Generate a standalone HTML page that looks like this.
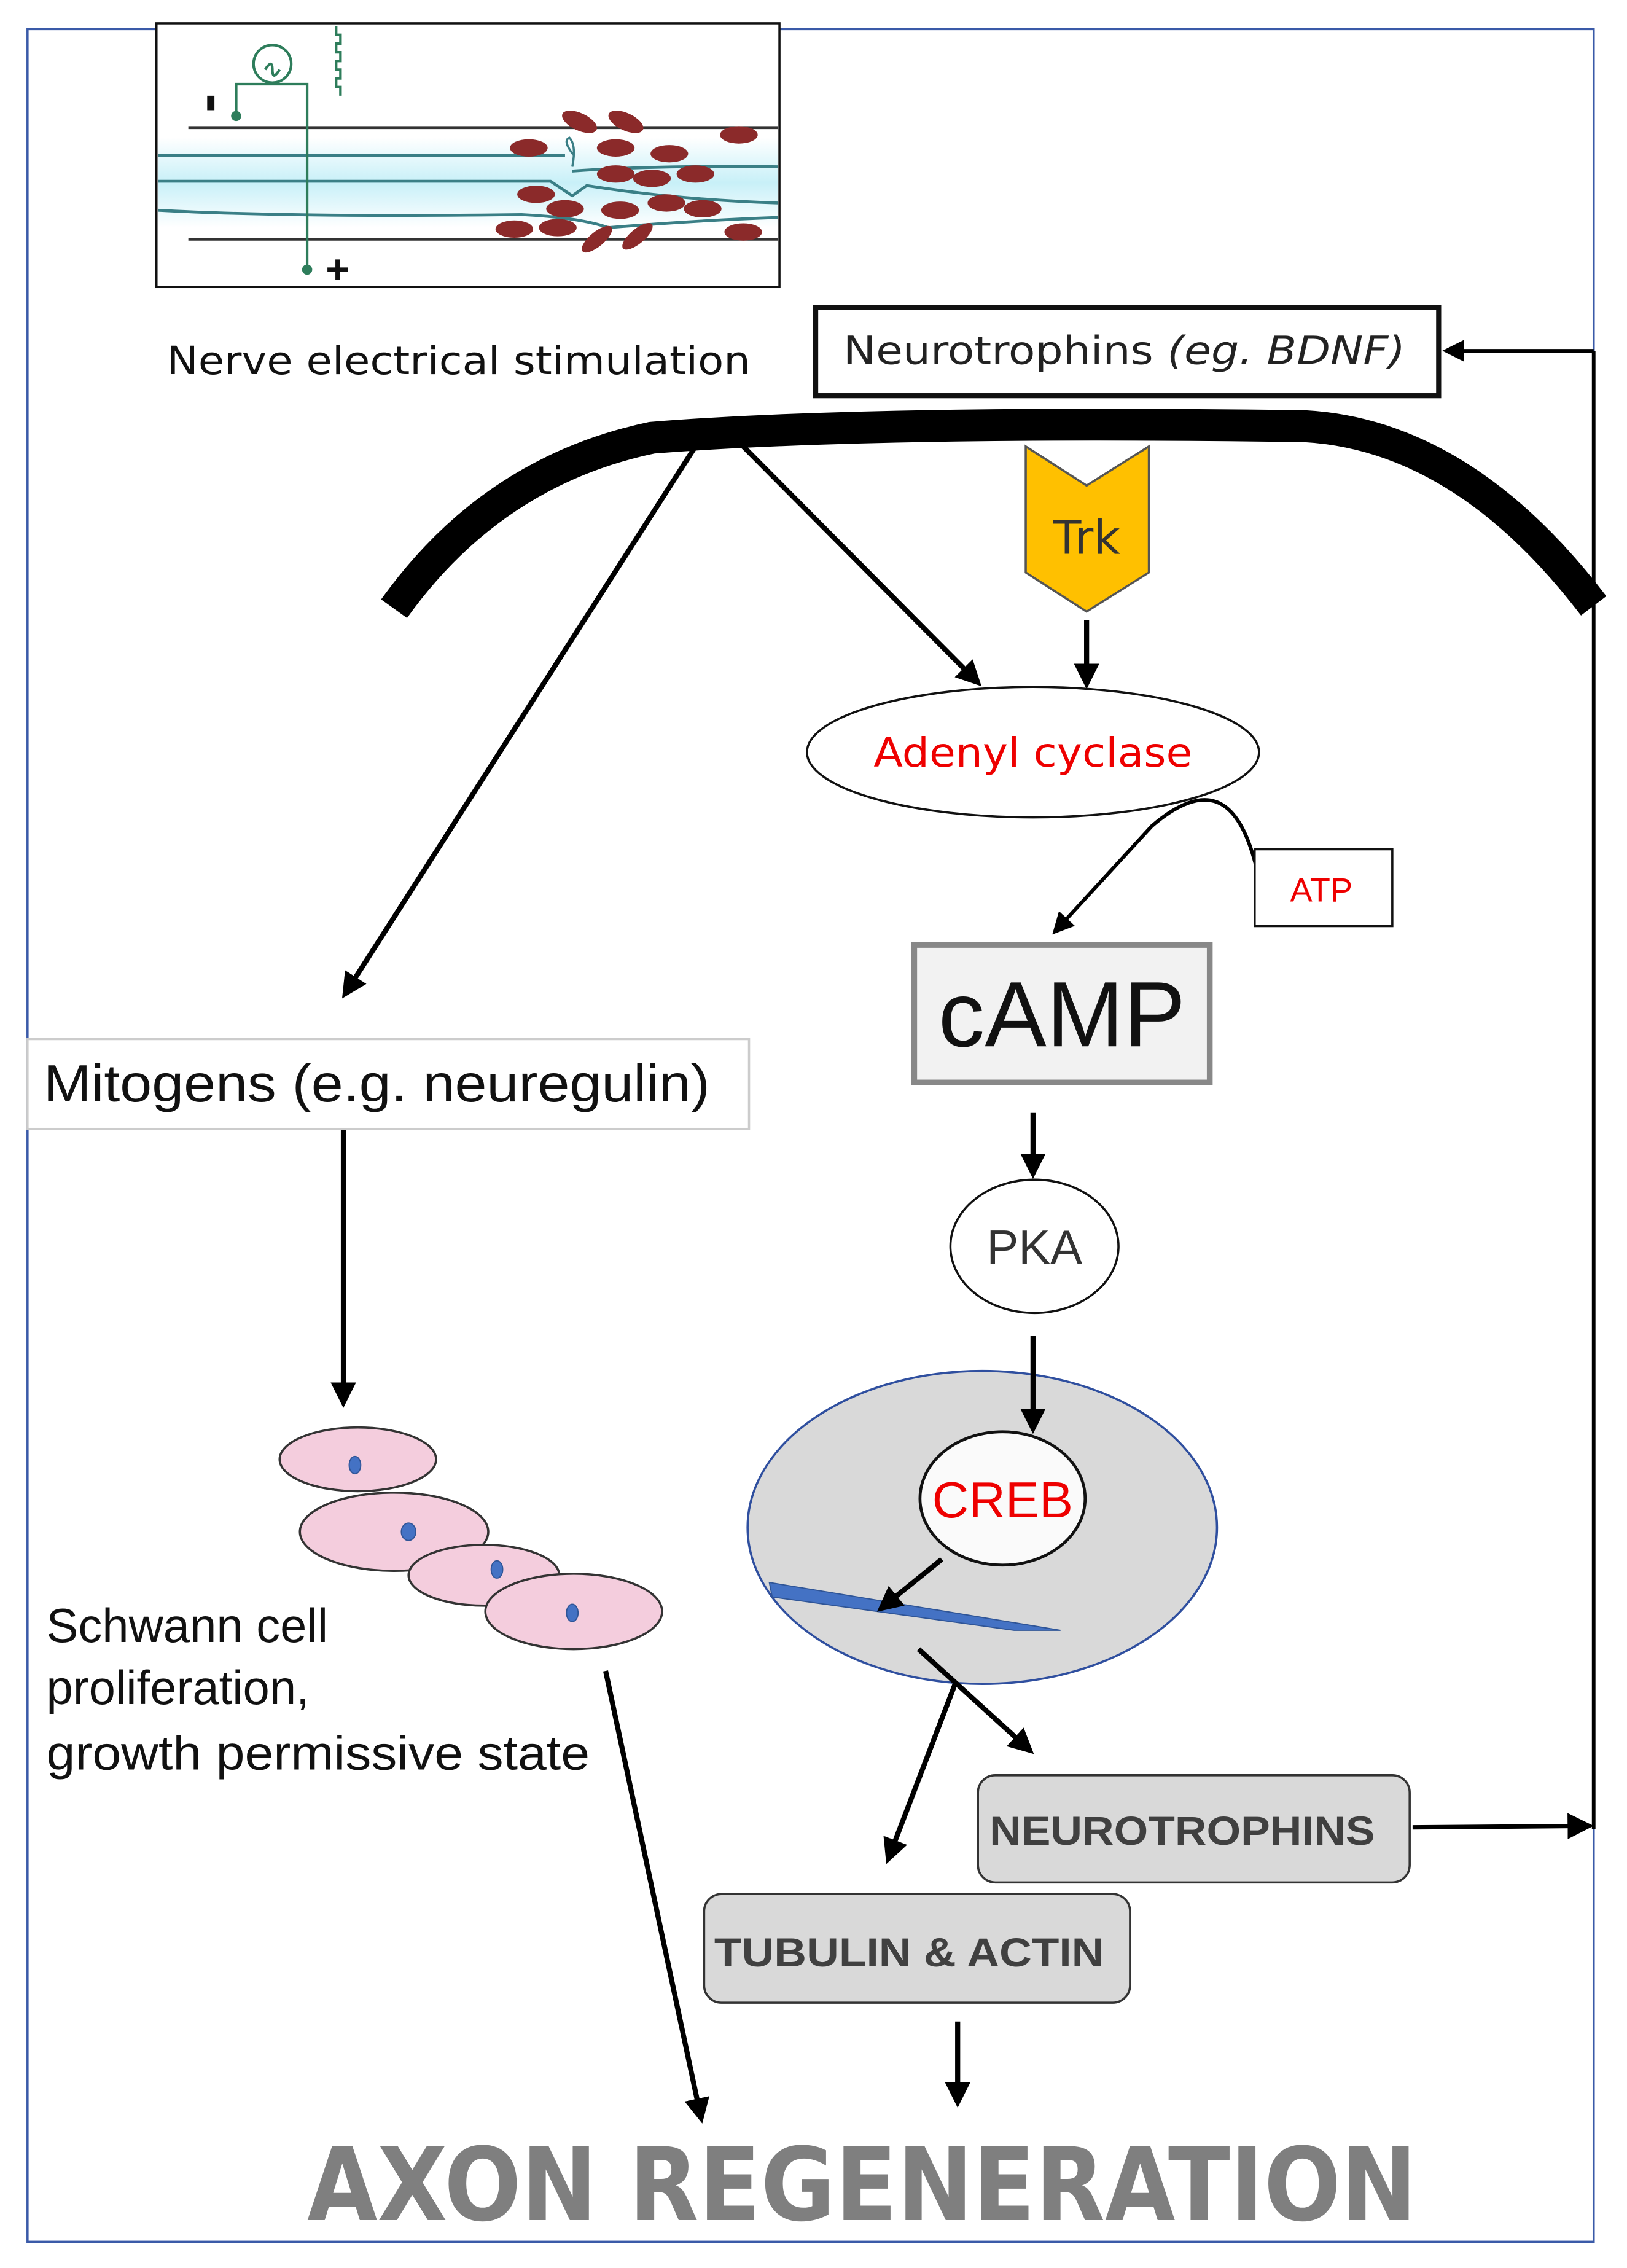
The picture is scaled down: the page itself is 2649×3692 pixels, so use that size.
<!DOCTYPE html>
<html><head><meta charset="utf-8"><style>html,body{margin:0;padding:0;background:#fff}svg{display:block}</style></head>
<body>
<svg width="2649" height="3692" viewBox="0 0 1123 1565" xmlns="http://www.w3.org/2000/svg">
<defs>
<marker id="ah" markerWidth="5" markerHeight="5" refX="4" refY="2.5" orient="auto" markerUnits="strokeWidth"><path d="M0,0 L5,2.5 L0,5 Z" fill="#000"/></marker>
<marker id="ah2" markerWidth="6" markerHeight="6" refX="5" refY="3" orient="auto" markerUnits="strokeWidth"><path d="M0,0 L6,3 L0,6 Z" fill="#000"/></marker>
<linearGradient id="cy" x1="0" y1="0" x2="0" y2="1"><stop offset="0" stop-color="#fff"/><stop offset="0.5" stop-color="#c8f0f8"/><stop offset="1" stop-color="#fff"/></linearGradient>
</defs>
<rect x="0" y="0" width="1123" height="1565" fill="#fff"/>
<rect x="19" y="20" width="1081" height="1527" fill="none" stroke="#3a5aa8" stroke-width="1.5"/>

<!-- nerve image -->
<rect x="108" y="16" width="430" height="182" fill="#fff" stroke="#111" stroke-width="1.5"/>
<rect x="109" y="95" width="428" height="62" fill="url(#cy)"/>
<line x1="130" y1="88" x2="537" y2="88" stroke="#333" stroke-width="2"/>
<line x1="130" y1="165" x2="537" y2="165" stroke="#333" stroke-width="2"/>
<path d="M109,107 L390,107 M395,118 Q450,114 537,115" stroke="#3a7f86" stroke-width="2" fill="none"/>
<path d="M109,125 L380,125 L395,135 L405,128 Q470,138 537,140" stroke="#3a7f86" stroke-width="2" fill="none"/>
<path d="M109,145 Q200,150 360,148 Q400,150 420,157 Q480,152 537,150" stroke="#3a7f86" stroke-width="2" fill="none"/>
<path d="M396,107 q-8,-10 -3,-12 q5,5 2,20" stroke="#3a7f86" stroke-width="1.5" fill="none"/>
<g fill="#8b2a2a">
<ellipse cx="365" cy="102" rx="13" ry="6"/><ellipse cx="400" cy="84" rx="13" ry="6" transform="rotate(25 400 84)"/><ellipse cx="432" cy="84" rx="13" ry="6" transform="rotate(25 432 84)"/>
<ellipse cx="425" cy="102" rx="13" ry="6"/><ellipse cx="462" cy="106" rx="13" ry="6"/><ellipse cx="510" cy="93" rx="13" ry="6"/>
<ellipse cx="425" cy="120" rx="13" ry="6"/><ellipse cx="450" cy="123" rx="13" ry="6"/><ellipse cx="480" cy="120" rx="13" ry="6"/>
<ellipse cx="370" cy="134" rx="13" ry="6"/><ellipse cx="390" cy="144" rx="13" ry="6"/><ellipse cx="428" cy="145" rx="13" ry="6"/><ellipse cx="460" cy="140" rx="13" ry="6"/><ellipse cx="485" cy="144" rx="13" ry="6"/>
<ellipse cx="355" cy="158" rx="13" ry="6"/><ellipse cx="385" cy="157" rx="13" ry="6"/><ellipse cx="412" cy="165" rx="13" ry="5" transform="rotate(-40 412 165)"/><ellipse cx="440" cy="163" rx="13" ry="5" transform="rotate(-40 440 163)"/><ellipse cx="513" cy="160" rx="13" ry="6"/>
</g>
<g stroke="#2e7d5b" stroke-width="1.8" fill="none">
<circle cx="188" cy="44" r="13"/>
<path d="M163,80 L163,58 L212,58 L212,186"/>
<path d="M183,48 q5,-8 5,0 q0,8 5,0"/>
<path d="M232,18 v6 h3 v6 h-3 v6 h3 v6 h-3 v6 h3 v6 h-3 v6 h3 v6"/>
</g>
<circle cx="163" cy="80" r="3.5" fill="#2e7d5b"/><circle cx="212" cy="186" r="3.5" fill="#2e7d5b"/>
<rect x="143" y="66" width="5" height="10" fill="#111"/>
<path d="M226,186 h14 M233,179 v14" stroke="#111" stroke-width="3"/>

<text x="115" y="258" font-family="'DejaVu Sans',sans-serif" font-size="27" fill="#111" textLength="403" lengthAdjust="spacingAndGlyphs">Nerve electrical stimulation</text>

<rect x="563" y="212" width="430" height="61" fill="#fff" stroke="#111" stroke-width="3.5"/>
<text x="582" y="251" font-family="'DejaVu Sans',sans-serif" font-size="27" fill="#222" textLength="388" lengthAdjust="spacingAndGlyphs">Neurotrophins <tspan font-style="italic">(eg. BDNF)</tspan></text>

<!-- membrane -->
<path d="M272,420 Q340,325 450,302 Q600,290 900,294 Q1010,300 1100,418" stroke="#000" stroke-width="22" fill="none"/>

<!-- Trk -->
<polygon points="708,308 750,335 793,308 793,395 750,422 708,395" fill="#ffc000" stroke="#555" stroke-width="1.5"/>
<text x="750" y="382" font-family="'DejaVu Sans',sans-serif" font-size="32" text-anchor="middle" fill="#333">Trk</text>

<g stroke="#000" stroke-width="3.5" fill="none">
<line x1="480" y1="308" x2="238" y2="686" marker-end="url(#ah)"/>
<line x1="513" y1="308" x2="675" y2="471" marker-end="url(#ah)"/>
<line x1="750" y1="428" x2="750" y2="472" marker-end="url(#ah)"/>
<line x1="1100" y1="242" x2="998" y2="242" stroke-width="2.5" marker-end="url(#ah2)"/>
<line x1="1100" y1="242" x2="1100" y2="1262" stroke-width="2.5"/>
<line x1="975" y1="1261" x2="1097" y2="1260" stroke-width="3" marker-end="url(#ah2)"/>
<path d="M868,602 C855,545 830,540 795,570 L728,643" stroke-width="2.5" marker-end="url(#ah2)"/>
<line x1="713" y1="768" x2="713" y2="810" marker-end="url(#ah)"/>
<line x1="237" y1="772" x2="237" y2="968" marker-end="url(#ah)"/>
<line x1="418" y1="1153" x2="484" y2="1462" marker-end="url(#ah)"/>
<line x1="661" y1="1395" x2="661" y2="1451" marker-end="url(#ah)"/>
</g>

<ellipse cx="713" cy="519" rx="156" ry="45" fill="#fff" stroke="#111" stroke-width="1.5"/>
<text x="713" y="529" font-family="'DejaVu Sans',sans-serif" font-size="28" text-anchor="middle" fill="#ee0000" textLength="220" lengthAdjust="spacingAndGlyphs">Adenyl cyclase</text>

<rect x="866" y="586" width="95" height="53" fill="#fff" stroke="#111" stroke-width="1.5"/>
<text x="912" y="622" font-family="'Liberation Sans',sans-serif" font-size="23" text-anchor="middle" fill="#ee0000">ATP</text>

<rect x="631" y="652" width="204" height="95" fill="#f2f2f2" stroke="#888" stroke-width="4"/>
<text x="733" y="722" font-family="'Liberation Sans',sans-serif" font-size="64" text-anchor="middle" fill="#111">cAMP</text>

<ellipse cx="714" cy="860" rx="58" ry="46" fill="#fff" stroke="#111" stroke-width="1.5"/>
<text x="714" y="872" font-family="'Liberation Sans',sans-serif" font-size="33" text-anchor="middle" fill="#333">PKA</text>

<ellipse cx="678" cy="1054" rx="162" ry="108" fill="#d9d9d9" stroke="#2f4f9f" stroke-width="1.5"/>
<line x1="713" y1="922" x2="713" y2="986" stroke="#000" stroke-width="3.5" marker-end="url(#ah)"/>
<ellipse cx="692" cy="1034" rx="57" ry="46" fill="#fafafa" stroke="#111" stroke-width="2"/>
<text x="692" y="1047" font-family="'Liberation Sans',sans-serif" font-size="35" text-anchor="middle" fill="#ee0000">CREB</text>
<polygon points="531,1092 732,1125 700,1125 533,1102" fill="#4472c4" stroke="#2f5597" stroke-width="0.8"/>
<g stroke="#000" stroke-width="3.5" fill="none">
<line x1="650" y1="1076" x2="608" y2="1110" marker-end="url(#ah)"/>
<line x1="634" y1="1138" x2="711" y2="1208" marker-end="url(#ah)"/>
<line x1="660" y1="1160" x2="613" y2="1283" marker-end="url(#ah)"/>
</g>

<rect x="675" y="1225" width="298" height="74" rx="12" fill="#d9d9d9" stroke="#333" stroke-width="1.5"/>
<text x="683" y="1273" font-family="'Liberation Sans',sans-serif" font-size="28" font-weight="bold" fill="#404040" textLength="266" lengthAdjust="spacingAndGlyphs">NEUROTROPHINS</text>
<rect x="486" y="1307" width="294" height="75" rx="12" fill="#d9d9d9" stroke="#333" stroke-width="1.5"/>
<text x="493" y="1357" font-family="'Liberation Sans',sans-serif" font-size="28" font-weight="bold" fill="#404040" textLength="269" lengthAdjust="spacingAndGlyphs">TUBULIN &amp; ACTIN</text>

<rect x="19" y="717" width="498" height="62" fill="#fff" stroke="#ccc" stroke-width="1.5"/>
<text x="30" y="760" font-family="'Liberation Sans',sans-serif" font-size="36" fill="#111" textLength="460" lengthAdjust="spacingAndGlyphs">Mitogens (e.g. neuregulin)</text>

<g fill="#f4cddd" stroke="#333" stroke-width="1.5">
<ellipse cx="247" cy="1007" rx="54" ry="22"/>
<ellipse cx="272" cy="1057" rx="65" ry="27"/>
<ellipse cx="334" cy="1087" rx="52" ry="21"/>
<ellipse cx="396" cy="1112" rx="61" ry="26"/>
</g>
<g fill="#4472c4" stroke="#2f5597" stroke-width="0.8">
<ellipse cx="245" cy="1011" rx="4" ry="6"/><ellipse cx="282" cy="1057" rx="5" ry="6"/><ellipse cx="343" cy="1083" rx="4" ry="6"/><ellipse cx="395" cy="1113" rx="4" ry="6"/>
</g>
<g font-family="'Liberation Sans',sans-serif" font-size="33" fill="#111">
<text x="32" y="1133">Schwann cell</text>
<text x="32" y="1176">proliferation,</text>
<text x="32" y="1221" textLength="375" lengthAdjust="spacingAndGlyphs">growth permissive state</text>
</g>

<text x="212" y="1532" font-family="'DejaVu Sans',sans-serif" font-size="70" font-weight="bold" fill="#7f7f7f" textLength="766" lengthAdjust="spacingAndGlyphs">AXON REGENERATION</text>
</svg>
</body></html>
